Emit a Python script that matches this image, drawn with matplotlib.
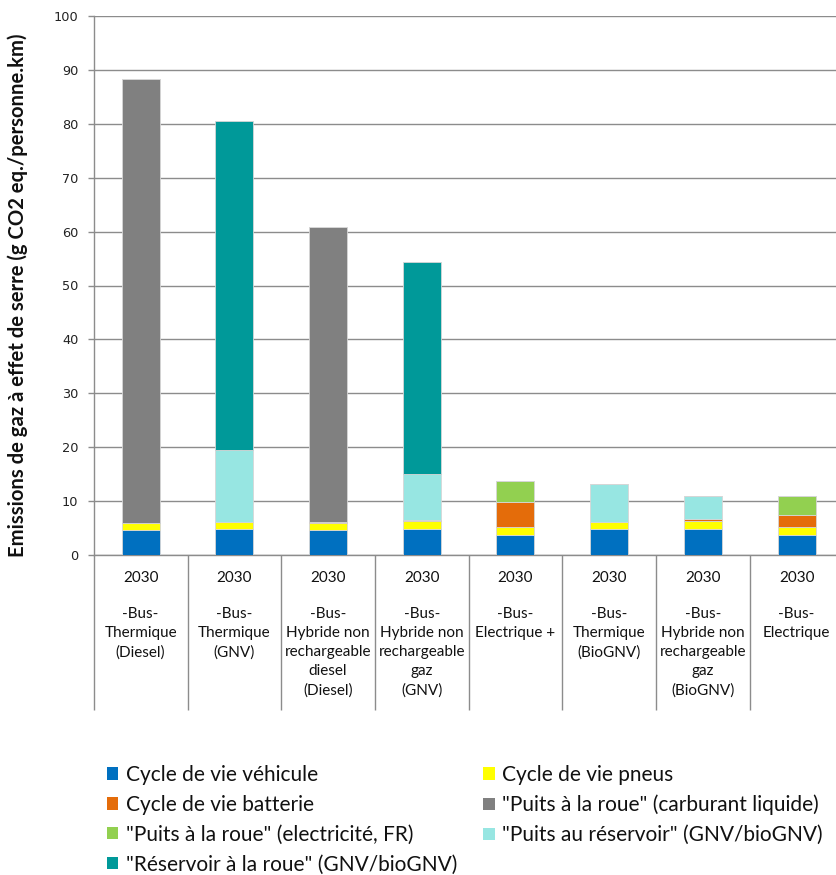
import matplotlib
matplotlib.use("Agg")
import matplotlib.pyplot as plt
from matplotlib.patches import Patch
from matplotlib.transforms import blended_transform_factory
import numpy as np

# Categories (year / vehicle description)
years = ["2030"] * 8
vehicles = [
    "-Bus-\nThermique\n(Diesel)",
    "-Bus-\nThermique\n(GNV)",
    "-Bus-\nHybride non\nrechargeable\ndiesel\n(Diesel)",
    "-Bus-\nHybride non\nrechargeable\ngaz\n(GNV)",
    "-Bus-\nElectrique +",
    "-Bus-\nThermique\n(BioGNV)",
    "-Bus-\nHybride non\nrechargeable\ngaz\n(BioGNV)",
    "-Bus-\nElectrique",
]

# Emission components (g CO2 eq./personne.km)
cycle_vehicule = [4.6, 4.9, 4.7, 4.9, 3.7, 4.9, 4.9, 3.7]
cycle_pneus = [1.3, 1.3, 1.25, 1.4, 1.5, 1.3, 1.5, 1.5]
cycle_batterie = [0.0, 0.0, 0.2, 0.2, 4.7, 0.0, 0.2, 2.3]
puits_roue_liquide = [82.4, 0.0, 54.7, 0.0, 0.0, 0.0, 0.0, 0.0]
puits_roue_elec = [0.0, 0.0, 0.0, 0.0, 3.77, 0.0, 0.0, 3.45]
puits_reservoir = [0.0, 13.3, 0.0, 8.5, 0.0, 6.97, 4.35, 0.0]
reservoir_roue = [0.0, 61.0, 0.0, 39.3, 0.0, 0.0, 0.0, 0.0]

series = [
    ("Cycle de vie véhicule", cycle_vehicule, "#0070C0"),
    ("Cycle de vie pneus", cycle_pneus, "#FFFF00"),
    ("Cycle de vie batterie", cycle_batterie, "#E46C0A"),
    ('"Puits à la roue" (carburant liquide)', puits_roue_liquide, "#808080"),
    ('"Puits à la roue" (electricité, FR)', puits_roue_elec, "#92D050"),
    ('"Puits au réservoir" (GNV/bioGNV)', puits_reservoir, "#97E6E2"),
    ('"Réservoir à la roue" (GNV/bioGNV)', reservoir_roue, "#009999"),
]

W, H = 836, 875
fig = plt.figure(figsize=(W / 100, H / 100), dpi=100)
ax = fig.add_axes([93.8 / W, 1 - 555 / H, 749.6 / W, (555 - 16) / H])

grid_c = "#8c8c8c"
x = np.arange(len(years))
bottom = np.zeros(len(years))
for name, vals, col in series:
    v = np.array(vals)
    ax.bar(x, v, 0.405, bottom=bottom, color=col, edgecolor="#d6d6d6",
           linewidth=0.6, zorder=3)
    bottom += v

ax.set_xlim(-0.5, len(years) - 0.5)
ax.set_ylim(0, 100)
ax.set_yticks(np.arange(0, 101, 10))
ax.yaxis.grid(True, color=grid_c, linewidth=1.0, zorder=0)
for s in ["top", "right"]:
    ax.spines[s].set_visible(False)
for s in ["left", "bottom"]:
    ax.spines[s].set_color(grid_c)
    ax.spines[s].set_linewidth(1.0)

ax.tick_params(axis="y", direction="out", length=4, width=1, color=grid_c,
               pad=7, labelsize=9.3, labelcolor="#222222")
for lab in ax.get_yticklabels():
    lab.set_family("DejaVu Sans")

# Category separators drawn as long minor ticks below the axis
ax.set_xticks([])
ax.set_xticks(np.arange(-0.5, len(years)), minor=True)
ax.tick_params(axis="x", which="minor", direction="out", length=155 * 0.72,
               width=1, color=grid_c)
ax.tick_params(axis="x", which="major", length=0)
ax.set_xticklabels([], minor=True)

trans = blended_transform_factory(ax.transData, fig.transFigure)
for i, (yr, veh) in enumerate(zip(years, vehicles)):
    ax.text(i, 1 - 571 / H, yr, transform=trans, ha="center", va="top",
            fontsize=11, family="Lato", color="#111111")
    ax.text(i, 1 - 607 / H, veh, transform=trans, ha="center", va="top",
            fontsize=11, family="Lato", color="#111111", linespacing=1.46,
            multialignment="center")

fig.text(18 / W, 1 - 295 / H,
         "Emissions de gaz à effet de serre (g CO2 eq./personne.km)",
         rotation=90, ha="center", va="center", fontsize=14.6,
         family="Lato", weight="bold", color="#111111")

handles = [Patch(facecolor=c, edgecolor="none", label=n) for n, _, c in series]
order = [0, 2, 4, 6, 1, 3, 5]
leg = fig.legend([handles[i] for i in order], [series[i][0] for i in order],
                 ncol=2, loc="upper left",
                 bbox_to_anchor=(107 / W, 1 - 765 / H),
                 frameon=False, prop={"family": "Lato", "size": 15},
                 handlelength=0.55, handleheight=0.55, handletextpad=0.35,
                 labelspacing=0.47, columnspacing=1.25, borderaxespad=0,
                 borderpad=0)
for t in leg.get_texts():
    t.set_color("#111111")

fig.savefig("out.png", dpi=100)
